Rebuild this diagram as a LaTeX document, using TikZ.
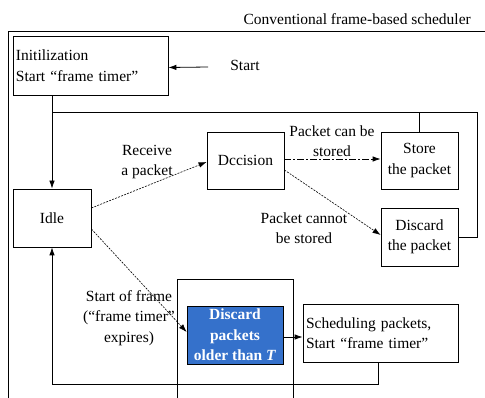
\documentclass[tikz,border=0pt]{standalone}
\usepackage{fontspec}
\setmainfont{Liberation Serif}
\usetikzlibrary{arrows.meta}
\begin{document}
\begin{tikzpicture}[x=1pt,y=-1pt,
  every node/.style={font=\fontsize{15.5}{20.5}\selectfont},
  box/.style={draw,line width=0.8pt,inner sep=2pt,align=center},
  lbl/.style={align=center,inner sep=0pt},
  wire/.style={line width=0.8pt},
  arr/.style={line width=0.8pt,-{Latex[length=8pt,width=5.5pt]}},
  dashy/.style={arr,dash pattern=on 2pt off 1.2pt,line width=0.6pt},
  dashdot/.style={arr,dash pattern=on 7pt off 2pt on 2pt off 2pt},
  blue box/.style={box,fill=bluefill,text=white,font=\fontsize{15.5}{20.5}\selectfont\bfseries}
]
\definecolor{bluefill}{HTML}{3571CB}
\useasboundingbox (0,0) rectangle (485,398);
% outer frame
\draw[wire] (8,400) -- (8,31) -- (490,31);
\node[lbl,anchor=east] (title) at (471,19) {Conventional frame-based scheduler};
% boxes
\node[box,minimum width=155pt,minimum height=59pt,align=left,text width=149pt] (init) at (90.5,65.5) {Initilization\\Start “frame timer"};
\node[lbl] (start) at (245,65) {Start};
\node[box,minimum width=78pt,minimum height=58pt] (idle) at (52,218) {Idle};
\node[box,minimum width=77pt,minimum height=57pt] (dec) at (245.5,160.5) {Dccision};
\node[box,minimum width=77pt,minimum height=57pt] (store) at (419.5,160.5) {Store\\the packet};
\node[box,minimum width=77pt,minimum height=58pt] (disc) at (419.5,237) {Discard\\the packet};
\draw[wire] (177,400) -- (177,279) -- (293,279) -- (293,400);
\node[blue box,minimum width=96pt,minimum height=58pt] (blue) at (235,335) {Discard\\packets\\older than \textit{T}};
\node[box,minimum width=155pt,minimum height=58pt,align=left,text width=149pt] (sched) at (380.5,333) {Scheduling packets,\\Start “frame timer"};
% coordinates
\coordinate (topR) at (477,112);
\coordinate (botL) at (52,384);
% connectors
\draw[arr] ([xshift=-22pt,yshift=-2pt]start.west) -- ([yshift=-2pt]init.east);
\draw[arr] (idle.north |- init.south) -- (idle.north);
\draw[wire] (idle.north |- topR) -- (topR) -- (topR |- disc.east) -- (disc.east);
\draw[wire] (store.north) -- (store.north |- topR);
\draw[dashy] ([yshift=10pt]idle.east) -- ([yshift=-1.5pt]dec.west);
\draw[dashdot] ([yshift=1.5pt]dec.east) -- ([yshift=1.5pt]store.west);
\draw[dashy] ([yshift=-9.5pt]dec.east) -- ([yshift=2pt]disc.west);
\draw[dashy] ([yshift=-11pt]idle.east) -- ([yshift=3pt]blue.west);
\draw[arr] ([yshift=-2pt]blue.east) -- ([yshift=-2pt]blue.east -| sched.west);
\draw[arr] ([xshift=-2.5pt]sched.south) -- ([xshift=-2.5pt]sched.south |- botL) -- (botL) -- (idle.south);
% labels
\node[lbl] (l1) at (147,162) {Receive\\a packet};
\node[lbl] (l2) at (332,141) {Packet can be\\stored};
\node[lbl] (l3) at (304,228) {Packet cannot\\be stored};
\node[lbl] (l4) at (129,318) {Start of frame\\(“frame timer"\\expires)};
\end{tikzpicture}
\end{document}
